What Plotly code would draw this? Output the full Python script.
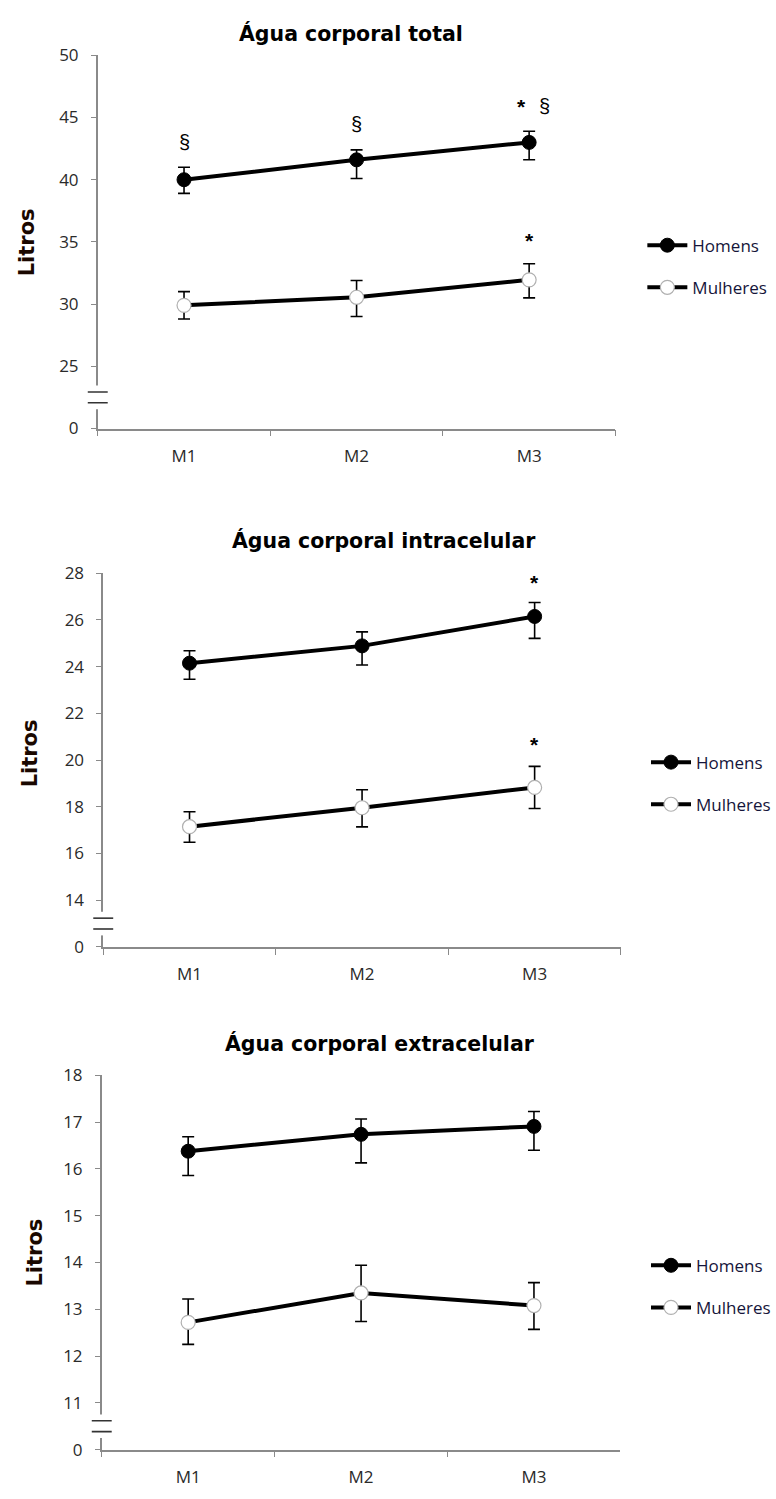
import plotly.graph_objects as go

W, H = 776, 1499

categories = ["M1", "M2", "M3"]
series_names = ["Homens", "Mulheres"]

# Panel 1: Água corporal total
p1_title = "Água corporal total"
p1_hom = [40.0, 41.6, 43.0]
p1_hom_plus = [1.0, 0.8, 0.9]
p1_hom_minus = [1.1, 1.5, 1.4]
p1_mul = [29.9, 30.55, 31.95]
p1_mul_plus = [1.1, 1.35, 1.3]
p1_mul_minus = [1.1, 1.55, 1.45]
p1_ticks = [20, 25, 30, 35, 40, 45, 50]
p1_ticktext = ["0", "25", "30", "35", "40", "45", "50"]

# Panel 2: Água corporal intracelular
p2_title = "Água corporal intracelular"
p2_hom = [24.15, 24.89, 26.15]
p2_hom_plus = [0.53, 0.6, 0.6]
p2_hom_minus = [0.69, 0.82, 0.94]
p2_mul = [17.15, 17.96, 18.83]
p2_mul_plus = [0.64, 0.77, 0.9]
p2_mul_minus = [0.67, 0.82, 0.9]
p2_ticks = [12, 14, 16, 18, 20, 22, 24, 26, 28]
p2_ticktext = ["0", "14", "16", "18", "20", "22", "24", "26", "28"]

# Panel 3: Água corporal extracelular
p3_title = "Água corporal extracelular"
p3_hom = [16.38, 16.74, 16.91]
p3_hom_plus = [0.31, 0.33, 0.32]
p3_hom_minus = [0.52, 0.61, 0.51]
p3_mul = [12.72, 13.35, 13.08]
p3_mul_plus = [0.5, 0.59, 0.49]
p3_mul_minus = [0.47, 0.61, 0.51]
p3_ticks = [10, 11, 12, 13, 14, 15, 16, 17, 18]
p3_ticktext = ["0", "11", "12", "13", "14", "15", "16", "17", "18"]

# significance marks: (category, y value, text, x pixel shift)
p1_marks = [("M1", 43.0, "§", 0), ("M2", 44.5, "§", 0), ("M3", 45.9, "*", -8), ("M3", 45.95, "§", 15), ("M3", 35.1, "*", 0)]
p2_marks = [("M3", 27.6, "*", 0), ("M3", 20.65, "*", 0)]
p3_marks = []

panels = [
    dict(title=p1_title, hom=(p1_hom, p1_hom_plus, p1_hom_minus), mul=(p1_mul, p1_mul_plus, p1_mul_minus),
         ticks=p1_ticks, ticktext=p1_ticktext, marks=p1_marks,
         xpx=(98, 617), ypx=(44, 423), title_pos=(352, 22), ylab_pos=(27, 234), leg=(644, 219)),
    dict(title=p2_title, hom=(p2_hom, p2_hom_plus, p2_hom_minus), mul=(p2_mul, p2_mul_plus, p2_mul_minus),
         ticks=p2_ticks, ticktext=p2_ticktext, marks=p2_marks,
         xpx=(103.5, 622.5), ypx=(570, 949.5), title_pos=(385, 537), ylab_pos=(31, 753), leg=(648, 744)),
    dict(title=p3_title, hom=(p3_hom, p3_hom_plus, p3_hom_minus), mul=(p3_mul, p3_mul_plus, p3_mul_minus),
         ticks=p3_ticks, ticktext=p3_ticktext, marks=p3_marks,
         xpx=(102, 622), ypx=(1080, 1460), title_pos=(381, 1048), ylab_pos=(35, 1260), leg=(648, 1255)),
]

fig = go.Figure()
AX = "#8a8a8a"
tickfont = dict(family="Open Sans", size=17, color="#2a2a2a")
annotations = []
shapes = []
layout = {}

for i, p in enumerate(panels, start=1):
    xa = "x" if i == 1 else f"x{i}"
    ya = "y" if i == 1 else f"y{i}"
    leg = "legend" if i == 1 else f"legend{i}"
    ymin, ymax = p["ticks"][0], p["ticks"][-1]
    for name, (vals, plus, minus), mk in [
        (series_names[0], p["hom"], dict(color="black", size=14, line=dict(color="black", width=1))),
        (series_names[1], p["mul"], dict(color="white", size=14, line=dict(color="#b0b0b0", width=1.2))),
    ]:
        fig.add_trace(go.Scatter(
            x=categories, y=vals, name=name, mode="lines+markers",
            line=dict(color="black", width=4), marker=mk,
            error_y=dict(type="data", array=plus, arrayminus=minus, symmetric=False,
                         color="black", thickness=1.6, width=6),
            xaxis=xa, yaxis=ya, legend=leg, legendgroup=f"{name}{i}",
        ))
    x0, x1 = p["xpx"]
    y0, y1 = p["ypx"]
    xkey = "xaxis" if i == 1 else f"xaxis{i}"
    ykey = "yaxis" if i == 1 else f"yaxis{i}"
    layout[xkey] = dict(domain=[x0 / W, x1 / W], anchor=ya, type="category",
                        range=[-0.5, 2.5], showline=True, linecolor=AX, linewidth=1.5,
                        ticks="outside", tickson="boundaries", ticklen=6, tickcolor=AX, tickwidth=1.3,
                        tickfont=tickfont, ticklabelstandoff=11, showgrid=False, zeroline=False)
    layout[ykey] = dict(domain=[1 - y1 / H, 1 - y0 / H], anchor=xa, range=[ymin, ymax],
                        tickvals=p["ticks"], ticktext=p["ticktext"], showline=True,
                        linecolor=AX, linewidth=1.5, ticks="outside", ticklen=5, tickcolor=AX,
                        tickwidth=1.3, tickfont=tickfont, ticklabelstandoff=9,
                        showgrid=False, zeroline=False)
    layout[leg] = dict(x=p["leg"][0] / W, y=1 - p["leg"][1] / H, xanchor="left", yanchor="top",
                       bgcolor="rgba(0,0,0,0)", borderwidth=0, tracegroupgap=17,
                       font=dict(family="Open Sans", size=17, color="#15153a"), itemwidth=40)
    annotations.append(dict(text=f"<b>{p['title']}</b>", x=p["title_pos"][0] / W, y=1 - p["title_pos"][1] / H,
                            xref="paper", yref="paper", showarrow=False, xanchor="center", yanchor="middle",
                            font=dict(family="DejaVu Sans", size=20.5, color="black")))
    annotations.append(dict(text="<b>Litros</b>", x=p["ylab_pos"][0] / W, y=1 - p["ylab_pos"][1] / H,
                            xref="paper", yref="paper", showarrow=False, textangle=-90,
                            xanchor="center", yanchor="middle",
                            font=dict(family="DejaVu Sans", size=21, color="#1a0800")))
    for cat, yv, txt, dx in p["marks"]:
        annotations.append(dict(text=f"<b>{txt}</b>" if txt == "*" else txt, x=cat, y=yv, xref=xa, yref=ya,
                                showarrow=False, xshift=dx,
                                font=dict(family="Liberation Sans", size=21 if txt == "*" else 20, color="black")))
    # axis break between "0" and the first real tick
    step = p["ticks"][1] - p["ticks"][0]
    mid = ymin + step / 2
    ax_x = x0 / W
    half = 12 / (y1 - y0) * (ymax - ymin)
    shapes.append(dict(type="rect", xref="paper", yref=ya, x0=ax_x - 4 / W, x1=ax_x + 4 / W,
                       y0=mid - half, y1=mid + half, fillcolor="white", line=dict(width=0), layer="above"))
    gap = 5.5 / (y1 - y0) * (ymax - ymin)
    for s in (-1, 1):
        shapes.append(dict(type="line", xref="paper", yref=ya, x0=ax_x - 10 / W, x1=ax_x + 10 / W,
                           y0=mid + s * gap, y1=mid + s * gap, line=dict(color="#333333", width=1.6),
                           layer="above"))

fig.update_layout(
    width=W, height=H, margin=dict(l=0, r=0, t=0, b=0),
    paper_bgcolor="white", plot_bgcolor="white",
    showlegend=True, annotations=annotations, shapes=shapes, **layout,
)
fig.write_html("out.html")
